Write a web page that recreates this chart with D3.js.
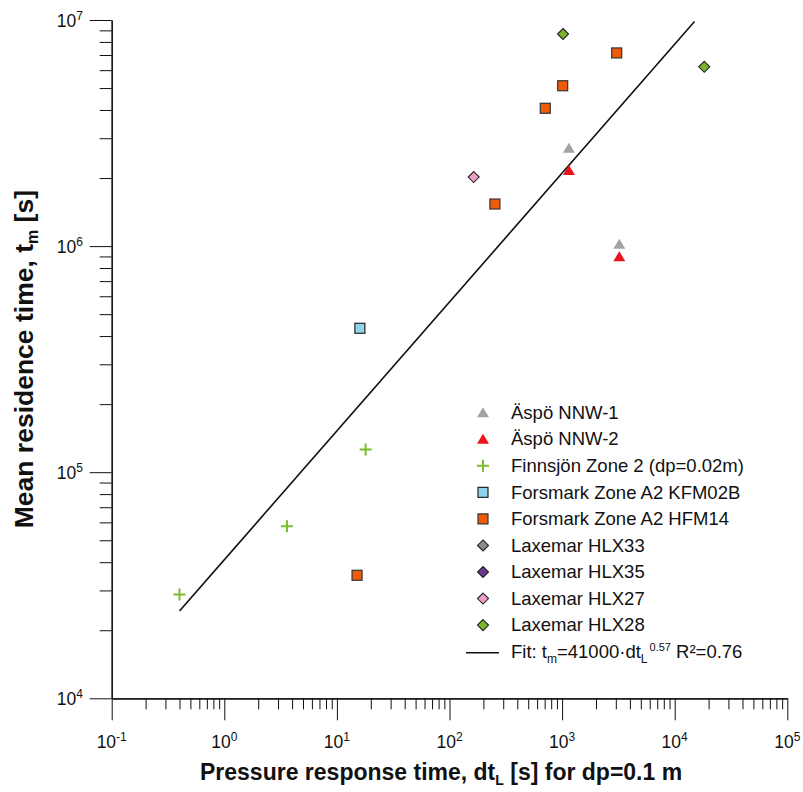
<!DOCTYPE html>
<html>
<head>
<meta charset="utf-8">
<script src="https://cdn.jsdelivr.net/npm/d3@7"></script>
<style>
  html, body { margin: 0; padding: 0; background: #fff; }
  svg { display: block; font-family: "Liberation Sans", Arial, sans-serif; }
</style>
</head>
<body>
<svg id="chart" width="803" height="792"></svg>
<script>
// ---------- data ----------
const aspo1X = [1150, 3220];
const aspo1Y = [2.71e6, 1.02e6];
const aspo2X = [1150, 3220];
const aspo2Y = [2.16e6, 8.98e5];
const finnX = [0.4, 3.6, 18.0];
const finnY = [28800, 57600, 126000];
const kfmX = [16.0];
const kfmY = [4.33e5];
const hfmX = [15.1, 253, 709, 1012, 3054];
const hfmY = [35000, 1.535e6, 4.07e6, 5.12e6, 7.15e6];
const hlx33X = [];
const hlx33Y = [];
const hlx35X = [];
const hlx35Y = [];
const hlx27X = [164];
const hlx27Y = [2.02e6];
const hlx28X = [1019, 18300];
const hlx28Y = [8.67e6, 6.21e6];
const fitCoef = 41000;
const fitExp = 0.57;
const fitX = [0.4, 15000];
const xMajor = [0.1, 1, 10, 100, 1000, 10000, 100000];
const xExp = ["-1", "0", "1", "2", "3", "4", "5"];
const yMajor = [1e4, 1e5, 1e6, 1e7];
const yExp = ["4", "5", "6", "7"];

const series = [
  {name: "Äspö NNW-1", xs: aspo1X, ys: aspo1Y, shape: "tri", fill: "#a3a3a3", stroke: "none"},
  {name: "Äspö NNW-2", xs: aspo2X, ys: aspo2Y, shape: "tri", fill: "#e8141c", stroke: "none"},
  {name: "Finnsjön Zone 2 (dp=0.02m)", xs: finnX, ys: finnY, shape: "plus", fill: "none", stroke: "#7dbb2f"},
  {name: "Forsmark Zone A2 KFM02B", xs: kfmX, ys: kfmY, shape: "square", fill: "#8fd4ec", stroke: "#222"},
  {name: "Forsmark Zone A2 HFM14", xs: hfmX, ys: hfmY, shape: "square", fill: "#ee5c0a", stroke: "#333"},
  {name: "Laxemar HLX33", xs: hlx33X, ys: hlx33Y, shape: "diamond", fill: "#8c8c8c", stroke: "#222"},
  {name: "Laxemar HLX35", xs: hlx35X, ys: hlx35Y, shape: "diamond", fill: "#6b3a8e", stroke: "#222"},
  {name: "Laxemar HLX27", xs: hlx27X, ys: hlx27Y, shape: "diamond", fill: "#f19ec6", stroke: "#222"},
  {name: "Laxemar HLX28", xs: hlx28X, ys: hlx28Y, shape: "diamond", fill: "#7ab42c", stroke: "#222"}
];

// ---------- layout ----------
const svg = d3.select("#chart");
const x = d3.scaleLog().domain([0.1, 1e5]).range([111.7, 787.3]);
const y = d3.scaleLog().domain([1e4, 1e7]).range([698.3, 20]);

function minorTicks(scale) {
  const [a, b] = scale.domain();
  const out = [];
  for (let e = Math.round(Math.log10(a)); e < Math.round(Math.log10(b)); e++) {
    for (let m = 2; m <= 9; m++) out.push(m * Math.pow(10, e));
  }
  return out;
}

const axisColor = "#111";
// x axis
const gx = svg.append("g").attr("transform", `translate(0,${y.range()[0]})`);
gx.append("g").call(d3.axisBottom(x).tickValues(minorTicks(x)).tickSize(11).tickSizeOuter(0).tickFormat(""));
gx.append("g").call(d3.axisBottom(x).tickValues(xMajor).tickSize(22).tickSizeOuter(0).tickFormat(""));
gx.selectAll("path.domain").attr("stroke", axisColor).attr("stroke-width", 1.2);
gx.selectAll(".tick line").attr("stroke", axisColor).attr("stroke-width", 1);

// y axis
const gy = svg.append("g").attr("transform", `translate(${x.range()[0]},0)`);
gy.append("g").call(d3.axisLeft(y).tickValues(minorTicks(y)).tickSize(12).tickSizeOuter(0).tickFormat(""));
gy.append("g").call(d3.axisLeft(y).tickValues(yMajor).tickSize(22).tickSizeOuter(0).tickFormat(""));
gy.selectAll("path.domain").attr("stroke", axisColor).attr("stroke-width", 1.2);
gy.selectAll(".tick line").attr("stroke", axisColor).attr("stroke-width", 1);

// x tick labels
xMajor.forEach((v, i) => {
  const t = svg.append("text").attr("x", x(v)).attr("y", 748)
    .attr("text-anchor", "middle").attr("font-size", 17.5).attr("fill", "#111");
  t.append("tspan").text("10");
  t.append("tspan").attr("dy", -7).attr("font-size", 12).text(xExp[i]);
});
// y tick labels
yMajor.forEach((v, i) => {
  const t = svg.append("text").attr("x", 83).attr("y", y(v) + 6.5)
    .attr("text-anchor", "end").attr("font-size", 17.5).attr("fill", "#111");
  t.append("tspan").text("10");
  t.append("tspan").attr("dy", -7).attr("font-size", 12).text(yExp[i]);
});

// axis titles
const xt = svg.append("text").attr("x", 200).attr("y", 780)
  .attr("text-anchor", "start").attr("font-size", 23).attr("font-weight", "bold").attr("fill", "#111");
xt.append("tspan").text("Pressure response time, dt");
xt.append("tspan").attr("dy", 5).attr("font-size", 14).text("L");
xt.append("tspan").attr("dy", -5).text(" [s] for dp=0.1 m");

const yt = svg.append("text")
  .attr("transform", `translate(33,${(y.range()[0] + y.range()[1]) / 2}) rotate(-90)`)
  .attr("text-anchor", "middle").attr("font-size", 26.5).attr("font-weight", "bold").attr("fill", "#111");
yt.append("tspan").text("Mean residence time, t");
yt.append("tspan").attr("dy", 5).attr("font-size", 16).text("m");
yt.append("tspan").attr("dy", -5).text(" [s]");

// fit line
const line = d3.line().x(d => x(d)).y(d => y(fitCoef * Math.pow(d, fitExp)));
svg.append("path").datum(fitX).attr("d", line)
  .attr("fill", "none").attr("stroke", "#111").attr("stroke-width", 1.6);

// markers
function drawMarker(g, s, cx, cy) {
  if (s.shape === "tri") {
    g.append("path").attr("d", `M${cx},${cy - 5.5}L${cx + 6},${cy + 4.5}L${cx - 6},${cy + 4.5}Z`)
      .attr("fill", s.fill);
  } else if (s.shape === "plus") {
    g.append("path").attr("d", `M${cx - 6},${cy}H${cx + 6}M${cx},${cy - 6}V${cy + 6}`)
      .attr("stroke", s.stroke).attr("stroke-width", 2).attr("fill", "none");
  } else if (s.shape === "square") {
    g.append("rect").attr("x", cx - 5).attr("y", cy - 5).attr("width", 10).attr("height", 10)
      .attr("fill", s.fill).attr("stroke", s.stroke).attr("stroke-width", 1.2);
  } else if (s.shape === "diamond") {
    g.append("path").attr("d", `M${cx},${cy - 5.5}L${cx + 5.5},${cy}L${cx},${cy + 5.5}L${cx - 5.5},${cy}Z`)
      .attr("fill", s.fill).attr("stroke", s.stroke).attr("stroke-width", 1.1);
  }
}
const gm = svg.append("g");
series.forEach(s => {
  s.xs.forEach((xv, i) => drawMarker(gm, s, x(xv), y(s.ys[i])));
});

// legend
const lg = svg.append("g");
const legX = 483, legText = 511, legY0 = 412.7, legDy = 26.55, legFont = 18.5;
series.forEach((s, i) => {
  const cy = legY0 + i * legDy;
  drawMarker(lg, s, legX, cy);
  lg.append("text").attr("x", legText).attr("y", cy + 6.2).attr("font-size", legFont).attr("fill", "#111").text(s.name);
});
const fy = legY0 + series.length * legDy;
lg.append("line").attr("x1", 466).attr("x2", 499).attr("y1", fy + 1).attr("y2", fy + 1)
  .attr("stroke", "#111").attr("stroke-width", 1.5);
const ft = lg.append("text").attr("x", legText).attr("y", fy + 6.2).attr("font-size", legFont).attr("fill", "#111");
ft.append("tspan").text("Fit: t");
ft.append("tspan").attr("dy", 5).attr("font-size", 12).text("m");
ft.append("tspan").attr("dy", -5).text("=41000·dt");
ft.append("tspan").attr("dy", 5).attr("font-size", 12).text("L");
ft.append("tspan").attr("dy", -12).attr("dx", 2).attr("font-size", 11).text("0.57");
ft.append("tspan").attr("dy", 7).text(" R²=0.76");
</script>
</body>
</html>
